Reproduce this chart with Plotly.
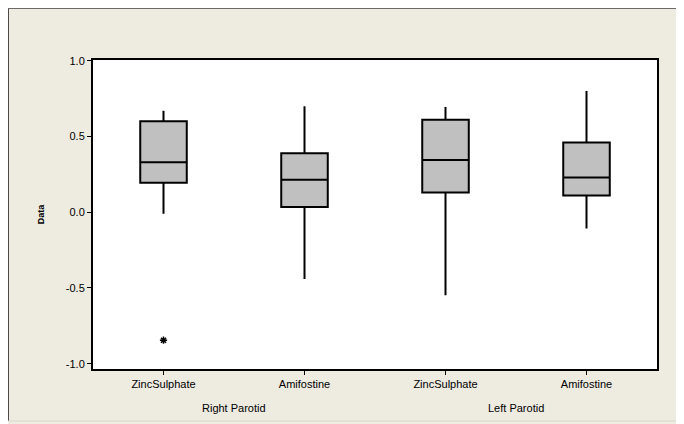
import plotly.graph_objects as go

categories = ["ZincSulphate", "Amifostine", "ZincSulphate", "Amifostine"]
groups = ["Right Parotid", "Left Parotid"]
x_pos = [0, 1, 2, 3]
upper_whisker = [0.67, 0.70, 0.695, 0.80]
q3_vals = [0.60, 0.39, 0.61, 0.46]
median_vals = [0.33, 0.215, 0.345, 0.23]
q1_vals = [0.195, 0.035, 0.13, 0.11]
lower_whisker = [-0.01, -0.44, -0.548, -0.108]
outlier_x = [0]
outlier_y = [-0.845]
y_ticks = [-1.0, -0.5, 0.0, 0.5, 1.0]

# page body has an 8px margin, figure coordinates = page - 8
W, H = 676, 416
L, R, T, B = 85, 27, 52, 55
pw, ph = W - L - R, H - T - B

def px_x(p):
    return (p - L) / pw

def px_y(p):
    return (H - B - p) / ph

fig = go.Figure()
fig.add_trace(go.Box(
    x=x_pos, q1=q1_vals, median=median_vals, q3=q3_vals,
    lowerfence=lower_whisker, upperfence=upper_whisker,
    width=0.33, whiskerwidth=0,
    fillcolor="#C0C0C0", line=dict(color="black", width=2),
    boxpoints=False, showlegend=False, hoverinfo="skip",
))
fig.add_trace(go.Scatter(
    x=outlier_x, y=outlier_y, mode="markers",
    marker=dict(symbol="asterisk-open", size=6, color="black",
                line=dict(color="black", width=1.5)),
    showlegend=False, hoverinfo="skip",
))

# screenshot frame edges
fig.add_shape(type="line", xref="paper", yref="paper",
              x0=px_x(0), x1=px_x(0), y0=px_y(413), y1=px_y(0),
              line=dict(color="#4a4a4a", width=2), layer="below")
fig.add_shape(type="line", xref="paper", yref="paper",
              x0=px_x(0), x1=px_x(W), y0=px_y(0), y1=px_y(0),
              line=dict(color="#6a6a6a", width=2), layer="below")
fig.add_shape(type="line", xref="paper", yref="paper",
              x0=px_x(0), x1=px_x(W), y0=px_y(413), y1=px_y(413),
              line=dict(color="#d8d6d0", width=1), layer="below")

font = "Liberation Sans, Arial, sans-serif"
for i, g in enumerate(groups):
    fig.add_annotation(x=x_pos[2 * i] + 0.5, y=px_y(400), xref="x", yref="paper",
                       yanchor="middle", text=g, showarrow=False,
                       font=dict(size=11, color="black", family=font))

fig.update_layout(
    width=W, height=H,
    margin=dict(l=L, r=R, t=T, b=B),
    paper_bgcolor="#EEEBE1", plot_bgcolor="white",
    xaxis=dict(range=[-0.5, 3.5], tickvals=x_pos, ticktext=categories,
               showline=True, linecolor="black", linewidth=2, mirror=True,
               ticks="outside", ticklen=4, tickcolor="black", showgrid=False,
               zeroline=False, tickfont=dict(size=11, color="black", family=font)),
    yaxis=dict(range=[-1.035, 1.005], tickvals=y_ticks,
               ticktext=["-1.0", "-0.5", "0.0", "0.5", "1.0"],
               showline=True, linecolor="black", linewidth=2, mirror=True,
               ticks="outside", ticklen=4, tickcolor="black", showgrid=False,
               zeroline=False, tickfont=dict(size=11, color="black", family=font),
               title=dict(text="<b>Data</b>", standoff=20,
                          font=dict(size=9, color="black", family=font))),
)
fig.write_html("out.html")
